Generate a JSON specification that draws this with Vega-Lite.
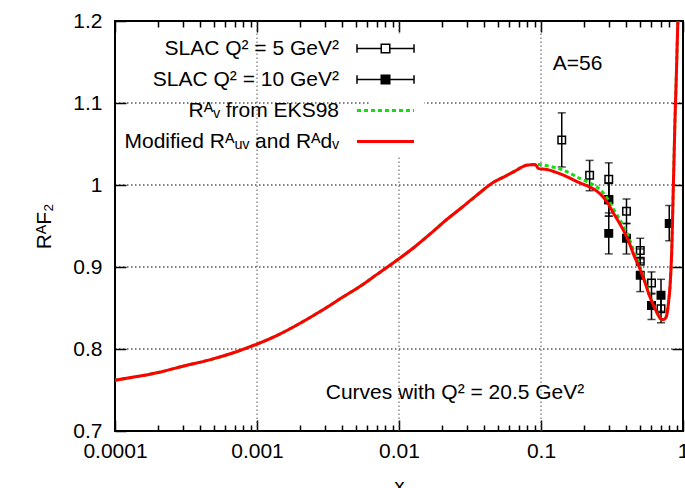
{
  "$schema": "https://vega.github.io/schema/vega-lite/v6.json",
  "autosize": {"type": "none"},
  "padding": {"left": 115, "top": 21, "right": 2, "bottom": 57},
  "width": 568,
  "height": 410,
  "background": "white",
  "config": {
    "view": {"stroke": "black", "strokeWidth": 2},
    "font": "Liberation Sans",
    "axis": {"labelFont": "Liberation Sans", "titleFont": "Liberation Sans", "labelColor": "black", "titleColor": "black", "tickColor": "black", "domain": false, "titleFontWeight": "normal"}
  },
  "datasets": {
    "majorx": [{"v": 0.001}, {"v": 0.01}, {"v": 0.1}],
    "majory": [{"v": 0.8}, {"v": 0.9}, {"v": 1.0}, {"v": 1.1}],
    "pts": [
      {"x": 0.14, "y": 1.055, "lo": 1.022, "hi": 1.088, "series": "s5"},
      {"x": 0.22, "y": 1.012, "lo": 0.993, "hi": 1.030, "series": "s5"},
      {"x": 0.30, "y": 1.007, "lo": 0.987, "hi": 1.027, "series": "s5"},
      {"x": 0.30, "y": 0.982, "lo": 0.962, "hi": 1.002, "series": "s5"},
      {"x": 0.40, "y": 0.968, "lo": 0.953, "hi": 0.983, "series": "s5"},
      {"x": 0.50, "y": 0.920, "lo": 0.905, "hi": 0.935, "series": "s5"},
      {"x": 0.50, "y": 0.907, "lo": 0.892, "hi": 0.922, "series": "s5"},
      {"x": 0.60, "y": 0.8805, "lo": 0.867, "hi": 0.894, "series": "s5"},
      {"x": 0.70, "y": 0.849, "lo": 0.832, "hi": 0.866, "series": "s5"},
      {"x": 0.30, "y": 0.982, "lo": 0.962, "hi": 1.002, "series": "s10"},
      {"x": 0.30, "y": 0.941, "lo": 0.916, "hi": 0.966, "series": "s10"},
      {"x": 0.40, "y": 0.935, "lo": 0.916, "hi": 0.953, "series": "s10"},
      {"x": 0.50, "y": 0.890, "lo": 0.870, "hi": 0.910, "series": "s10"},
      {"x": 0.60, "y": 0.853, "lo": 0.836, "hi": 0.868, "series": "s10"},
      {"x": 0.70, "y": 0.8655, "lo": 0.846, "hi": 0.885, "series": "s10"},
      {"x": 0.80, "y": 0.953, "lo": 0.932, "hi": 0.975, "series": "s10"}
    ],
    "mod": [
      {"x": 0.0001, "y": 0.762}, {"x": 0.00015, "y": 0.767}, {"x": 0.00021, "y": 0.772}, {"x": 0.0003, "y": 0.779},
      {"x": 0.00047, "y": 0.787}, {"x": 0.0007, "y": 0.796}, {"x": 0.001, "y": 0.806}, {"x": 0.0014, "y": 0.817},
      {"x": 0.0019, "y": 0.829}, {"x": 0.0028, "y": 0.846}, {"x": 0.004, "y": 0.863}, {"x": 0.0055, "y": 0.878},
      {"x": 0.007, "y": 0.891}, {"x": 0.01, "y": 0.910}, {"x": 0.013, "y": 0.925}, {"x": 0.0165, "y": 0.940},
      {"x": 0.021, "y": 0.956}, {"x": 0.027, "y": 0.971}, {"x": 0.035, "y": 0.987}, {"x": 0.046, "y": 1.003},
      {"x": 0.055, "y": 1.010}, {"x": 0.064, "y": 1.016}, {"x": 0.079, "y": 1.024}, {"x": 0.091, "y": 1.025},
      {"x": 0.096, "y": 1.020}, {"x": 0.11, "y": 1.019}, {"x": 0.144, "y": 1.012}, {"x": 0.188, "y": 1.0025},
      {"x": 0.221, "y": 0.9975}, {"x": 0.25, "y": 0.992}, {"x": 0.275, "y": 0.985}, {"x": 0.3, "y": 0.976},
      {"x": 0.323, "y": 0.966}, {"x": 0.35, "y": 0.956}, {"x": 0.38, "y": 0.945}, {"x": 0.415, "y": 0.931},
      {"x": 0.447, "y": 0.916}, {"x": 0.48, "y": 0.904}, {"x": 0.512, "y": 0.892}, {"x": 0.55, "y": 0.877},
      {"x": 0.586, "y": 0.863}, {"x": 0.62, "y": 0.853}, {"x": 0.653, "y": 0.845}, {"x": 0.68, "y": 0.839},
      {"x": 0.708, "y": 0.836}, {"x": 0.735, "y": 0.836}, {"x": 0.768, "y": 0.841}, {"x": 0.79, "y": 0.856},
      {"x": 0.81, "y": 0.876}, {"x": 0.832, "y": 0.917}, {"x": 0.855, "y": 0.998}, {"x": 0.878, "y": 1.079},
      {"x": 0.9, "y": 1.14}, {"x": 0.918, "y": 1.195}, {"x": 0.925, "y": 1.215}
    ],
    "eks": [
      {"x": 0.0001, "y": 0.762}, {"x": 0.00015, "y": 0.767}, {"x": 0.00021, "y": 0.772}, {"x": 0.0003, "y": 0.779},
      {"x": 0.00047, "y": 0.787}, {"x": 0.0007, "y": 0.796}, {"x": 0.001, "y": 0.806}, {"x": 0.0014, "y": 0.817},
      {"x": 0.0019, "y": 0.829}, {"x": 0.0028, "y": 0.846}, {"x": 0.004, "y": 0.863}, {"x": 0.0055, "y": 0.878},
      {"x": 0.007, "y": 0.891}, {"x": 0.01, "y": 0.910}, {"x": 0.013, "y": 0.925}, {"x": 0.0165, "y": 0.940},
      {"x": 0.021, "y": 0.956}, {"x": 0.027, "y": 0.971}, {"x": 0.035, "y": 0.987}, {"x": 0.046, "y": 1.003},
      {"x": 0.055, "y": 1.010}, {"x": 0.064, "y": 1.016}, {"x": 0.079, "y": 1.024}, {"x": 0.091, "y": 1.025},
      {"x": 0.0977, "y": 1.025}, {"x": 0.11, "y": 1.0235}, {"x": 0.144, "y": 1.018}, {"x": 0.188, "y": 1.008},
      {"x": 0.221, "y": 1.0025}, {"x": 0.25, "y": 0.997}, {"x": 0.275, "y": 0.990}, {"x": 0.3, "y": 0.981},
      {"x": 0.323, "y": 0.971}, {"x": 0.35, "y": 0.961}, {"x": 0.38, "y": 0.950}, {"x": 0.415, "y": 0.936},
      {"x": 0.447, "y": 0.921}, {"x": 0.48, "y": 0.908}, {"x": 0.512, "y": 0.895}, {"x": 0.55, "y": 0.879},
      {"x": 0.586, "y": 0.865}, {"x": 0.62, "y": 0.854}, {"x": 0.653, "y": 0.845}, {"x": 0.68, "y": 0.839},
      {"x": 0.708, "y": 0.836}, {"x": 0.735, "y": 0.836}, {"x": 0.768, "y": 0.841}, {"x": 0.79, "y": 0.856},
      {"x": 0.81, "y": 0.876}, {"x": 0.832, "y": 0.917}, {"x": 0.855, "y": 0.998}, {"x": 0.878, "y": 1.079},
      {"x": 0.9, "y": 1.14}, {"x": 0.918, "y": 1.195}, {"x": 0.925, "y": 1.215}
    ],
    "notes": [
      {"x": 0.1807, "y": 1.147, "label": "A=56"},
      {"x": 0.0248, "y": 0.746, "label": "Curves with Q² = 20.5 GeV²"}
    ]
  },
  "resolve": {"axis": {"x": "independent", "y": "independent"}},
  "layer": [
    {
      "data": {"name": "majory"},
      "mark": {"type": "rule", "color": "black", "strokeWidth": 1, "strokeDash": [1.5, 2.5]},
      "encoding": {
        "y": {"field": "v", "type": "quantitative", "scale": {"domain": [0.7, 1.2], "nice": false, "zero": false}, "axis": null},
        "x": {"datum": 0.0001, "type": "quantitative", "scale": {"type": "log", "domain": [0.0001, 1], "nice": false}, "axis": null},
        "x2": {"datum": 1}
      }
    },
    {
      "data": {"name": "majorx"},
      "mark": {"type": "rule", "color": "#555555", "strokeWidth": 1, "strokeDash": [1.5, 2.5]},
      "encoding": {
        "x": {"field": "v", "type": "quantitative", "scale": {"type": "log", "domain": [0.0001, 1], "nice": false}, "axis": null},
        "y": {"datum": 0.7, "type": "quantitative", "scale": {"domain": [0.7, 1.2], "nice": false, "zero": false}, "axis": null},
        "y2": {"datum": 1.2}
      }
    },
    {
      "data": {"name": "pts"},
      "mark": {"type": "rule", "color": "black", "strokeWidth": 1.5},
      "encoding": {
        "x": {"field": "x", "type": "quantitative",
          "scale": {"type": "log", "domain": [0.0001, 1], "nice": false},
          "axis": {"orient": "bottom", "values": [0.0001, 0.001, 0.01, 0.1, 1], "format": "~g", "labelFlush": false,
            "labelFontSize": 21, "tickSize": -11, "tickWidth": 1.5, "labelPadding": 20, "grid": false,
            "title": "x", "titleFontSize": 21, "titlePadding": 14}},
        "y": {"field": "lo", "type": "quantitative",
          "scale": {"domain": [0.7, 1.2], "nice": false, "zero": false},
          "axis": {"orient": "left", "values": [0.7, 0.8, 0.9, 1.0, 1.1, 1.2], "format": "~g",
            "labelFontSize": 21, "tickSize": -11, "tickWidth": 1.5, "labelPadding": 24, "grid": false,
            "title": "RᴬF₂", "titleFontSize": 21, "titlePadding": 18}},
        "y2": {"field": "hi"}
      }
    },
    {
      "data": {"name": "pts"},
      "mark": {"type": "tick", "orient": "horizontal", "color": "black", "size": 8, "thickness": 1.5},
      "encoding": {
        "x": {"field": "x", "type": "quantitative", "scale": {"type": "log", "domain": [0.0001, 1], "nice": false},
          "axis": {"orient": "bottom", "values": [0.0002, 0.0003, 0.0004, 0.0005, 0.0006, 0.0007, 0.0008, 0.0009, 0.002, 0.003, 0.004, 0.005, 0.006, 0.007, 0.008, 0.009, 0.02, 0.03, 0.04, 0.05, 0.06, 0.07, 0.08, 0.09, 0.2, 0.3, 0.4, 0.5, 0.6, 0.7, 0.8, 0.9],
            "labels": false, "tickSize": -6, "tickWidth": 1.5, "grid": false, "title": null}},
        "y": {"field": "lo", "type": "quantitative",
          "axis": {"orient": "right", "values": [0.8, 0.9, 1.0, 1.1], "labels": false, "tickSize": -11, "tickWidth": 1.5, "grid": false, "title": null}}
      }
    },
    {
      "data": {"name": "pts"},
      "mark": {"type": "tick", "orient": "horizontal", "color": "black", "size": 8, "thickness": 1.5},
      "encoding": {
        "x": {"field": "x", "type": "quantitative", "scale": {"type": "log", "domain": [0.0001, 1], "nice": false},
          "axis": {"orient": "top", "values": [0.0001, 0.001, 0.01, 0.1, 1], "labels": false, "tickSize": -11, "tickWidth": 1.5, "grid": false, "title": null}},
        "y": {"field": "hi", "type": "quantitative", "axis": null}
      }
    },
    {
      "data": {"name": "pts"},
      "mark": {"type": "point", "shape": "square", "size": 56, "stroke": "black", "strokeWidth": 1.5, "opacity": 1},
      "encoding": {
        "x": {"field": "x", "type": "quantitative", "scale": {"type": "log", "domain": [0.0001, 1], "nice": false},
          "axis": {"orient": "top", "values": [0.0002, 0.0003, 0.0004, 0.0005, 0.0006, 0.0007, 0.0008, 0.0009, 0.002, 0.003, 0.004, 0.005, 0.006, 0.007, 0.008, 0.009, 0.02, 0.03, 0.04, 0.05, 0.06, 0.07, 0.08, 0.09, 0.2, 0.3, 0.4, 0.5, 0.6, 0.7, 0.8, 0.9],
            "labels": false, "tickSize": -6, "tickWidth": 1.5, "grid": false, "title": null}},
        "y": {"field": "y", "type": "quantitative", "axis": null},
        "fill": {"field": "series", "type": "nominal", "scale": {"domain": ["s5", "s10"], "range": ["transparent", "black"]}, "legend": null}
      }
    },
    {
      "data": {"name": "eks"},
      "mark": {"type": "line", "strokeWidth": 3, "strokeDash": [4, 3], "clip": true, "interpolate": "monotone"},
      "encoding": {
        "x": {"field": "x", "type": "quantitative", "scale": {"type": "log", "domain": [0.0001, 1], "nice": false}, "axis": null},
        "y": {"field": "y", "type": "quantitative", "axis": null},
        "color": {"datum": "eks", "type": "nominal",
          "scale": {"domain": ["s5", "s10", "eks", "mod"], "range": ["black", "black", "#11dd11", "#ff0000"]},
          "legend": {
            "orient": "none", "legendX": 256, "legendY": 13, "direction": "vertical", "title": null,
            "symbolSize": 3249, "labelAlign": "right", "labelOffset": -57, "labelFontSize": 21, "labelFont": "Liberation Sans",
            "labelColor": "black", "labelLimit": 0, "rowPadding": 9, "fillColor": "white", "padding": 4,
            "labelExpr": "datum.value === 's5' ? 'SLAC Q² = 5 GeV²' : datum.value === 's10' ? 'SLAC Q² = 10 GeV²' : datum.value === 'eks' ? 'Rᴬᵥ from EKS98' : 'Modified Rᴬᵤᵥ and Rᴬdᵥ'",
            "encode": {"symbols": {"update": {
              "shape": {"signal": "(datum.value === 's5' || datum.value === 's10') ? 'M-1,0H-0.15M0.15,0H1M-1,-0.15V0.15M1,-0.15V0.15M-0.15,-0.15H0.15V0.15H-0.15Z' : 'M-1,0H1'"},
              "fill": {"signal": "datum.value === 's10' ? 'black' : 'transparent'"},
              "stroke": {"signal": "datum.value === 'eks' ? '#11dd11' : datum.value === 'mod' ? '#ff0000' : 'black'"},
              "strokeWidth": {"signal": "(datum.value === 's5' || datum.value === 's10') ? 1.5 : 3"},
              "strokeDash": {"signal": "datum.value === 'eks' ? [4, 3] : [1, 0]"},
              "opacity": {"value": 1}
            }}}
          }}
      }
    },
    {
      "data": {"name": "mod"},
      "mark": {"type": "line", "strokeWidth": 3, "clip": true, "interpolate": "monotone"},
      "encoding": {
        "x": {"field": "x", "type": "quantitative", "scale": {"type": "log", "domain": [0.0001, 1], "nice": false}, "axis": null},
        "y": {"field": "y", "type": "quantitative", "axis": null},
        "color": {"datum": "mod", "type": "nominal"}
      }
    },
    {
      "data": {"name": "notes"},
      "mark": {"type": "text", "font": "Liberation Sans", "fontSize": 21, "align": "center", "baseline": "middle", "color": "black"},
      "encoding": {
        "x": {"field": "x", "type": "quantitative", "scale": {"type": "log", "domain": [0.0001, 1], "nice": false}, "axis": null},
        "y": {"field": "y", "type": "quantitative", "axis": null},
        "text": {"field": "label"}
      }
    }
  ]
}
